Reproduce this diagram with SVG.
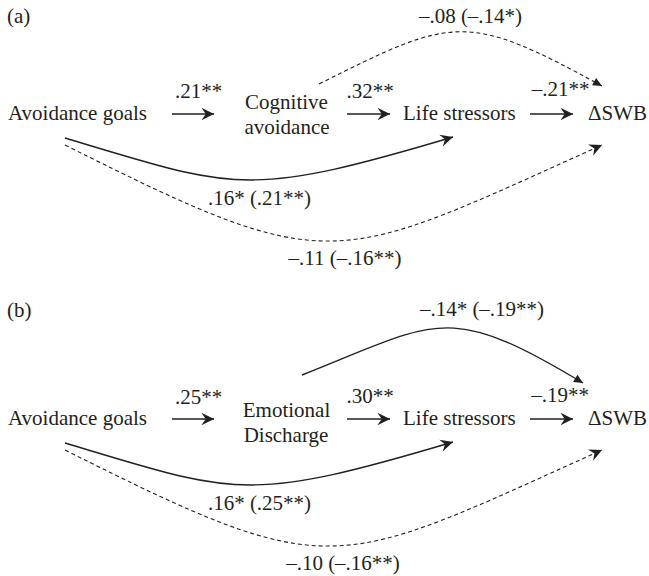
<svg xmlns="http://www.w3.org/2000/svg" width="649" height="576" viewBox="0 0 649 576">
<style>
  text { font-family: "Liberation Serif", "Times New Roman", serif; font-size: 21px; fill: #231f20; }
  .mid { text-anchor: middle; }
  .solid { fill: none; stroke: #231f20; stroke-width: 1.4; }
  .dash { fill: none; stroke: #231f20; stroke-width: 1.1; stroke-dasharray: 4 3; }
  .st { marker-end: url(#stealth); }
  .tr { marker-end: url(#tri); }
</style>
<defs>
  <marker id="stealth" viewBox="-13 -7 14 14" markerWidth="14" markerHeight="14" refX="0" refY="0" orient="auto" markerUnits="userSpaceOnUse">
    <path d="M0,0 L-12.5,-6.2 L-8.3,0 L-12.5,6.2 Z" fill="#231f20"/>
  </marker>
  <marker id="tri" viewBox="-10 -5 11 10" markerWidth="11" markerHeight="10" refX="0" refY="0" orient="auto" markerUnits="userSpaceOnUse">
    <path d="M0,0 L-9,-4.2 L-9,4.2 Z" fill="#231f20"/>
  </marker>
</defs>

<text x="7" y="23">(a)</text>
<text x="7" y="317">(b)</text>

<g id="a-avoidance-goals"><text x="8" y="120">Avoidance goals</text></g>
<g id="a-cognitive-avoidance"><text class="mid" x="286.5" y="109">Cognitive</text><text class="mid" x="287" y="134">avoidance</text></g>
<g id="a-life-stressors"><text x="403" y="120">Life stressors</text></g>
<g id="a-dswb"><text x="588" y="120">ΔSWB</text></g>

<g id="b-avoidance-goals"><text x="8" y="425">Avoidance goals</text></g>
<g id="b-emotional-discharge"><text class="mid" x="286.5" y="417">Emotional</text><text class="mid" x="286" y="442">Discharge</text></g>
<g id="b-life-stressors"><text x="403" y="425">Life stressors</text></g>
<g id="b-dswb"><text x="588" y="425">ΔSWB</text></g>

<g id="connectors">
  <path class="solid st" d="M172,114 H214"/>
  <path class="solid st" d="M347,114 H390"/>
  <path class="solid st" d="M530,114 H573"/>
  <path class="dash tr" d="M319,84 C454,16 467,12 602,86"/>
  <path class="solid st" d="M65,138 C235,189 245,199 453,137"/>
  <path class="dash st" d="M65,145 C334,280 333,266 602,145"/>

  <path class="solid st" d="M172,419 H214"/>
  <path class="solid st" d="M347,419 H390"/>
  <path class="solid st" d="M530,419 H573"/>
  <path class="solid tr" d="M302,375 C438,321 447,301 583,383"/>
  <path class="solid st" d="M65,443 C235,494 245,504 453,442"/>
  <path class="dash st" d="M65,450 C334,585 333,571 602,450"/>
</g>

<g id="edge-labels">
  <text class="mid" x="198.5" y="98">.21**</text>
  <text class="mid" x="370" y="98">.32**</text>
  <text class="mid" x="560.5" y="96">–.21**</text>
  <text class="mid" x="470.5" y="23">–.08 (–.14*)</text>
  <text class="mid" x="259.5" y="205">.16* (.21**)</text>
  <text class="mid" x="345" y="265">–.11 (–.16**)</text>

  <text class="mid" x="198.5" y="404">.25**</text>
  <text class="mid" x="370" y="403">.30**</text>
  <text class="mid" x="560" y="402">–.19**</text>
  <text class="mid" x="482" y="316">–.14* (–.19**)</text>
  <text class="mid" x="259.5" y="510">.16* (.25**)</text>
  <text class="mid" x="343" y="570">–.10 (–.16**)</text>
</g>
</svg>
